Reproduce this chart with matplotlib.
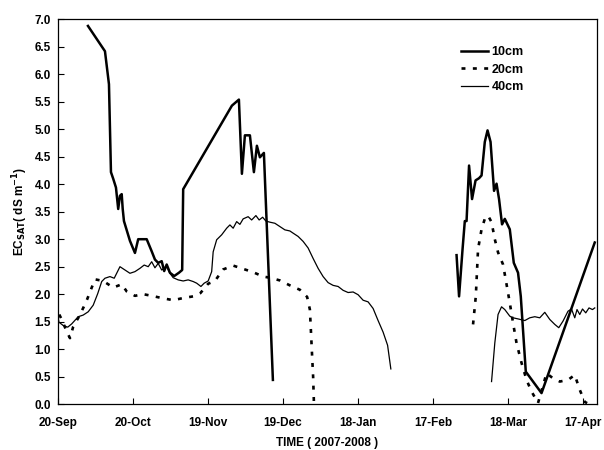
import numpy as np
from matplotlib import pyplot as plt

plt.rcParams['font.family'] = ['Liberation Sans', 'DejaVu Sans']
plt.rcParams['font.weight'] = 'bold'

# Days since 20-Sep-2007 and EC values.
tick_days = [0, 30, 60, 90, 120, 150, 180, 210]
tick_labels = ['20-Sep', '20-Oct', '19-Nov', '19-Dec', '18-Jan', '17-Feb', '18-Mar', '17-Apr']

# 10cm, two separate segments
d10_a = [12, 18.8, 20.4, 21.2, 22.1, 23.2, 24.1, 24.8, 25.5, 25.9, 26.4, 28.8, 30.8, 32.1,
         35.5, 37.5, 38.8, 40.1, 41.5, 42.5, 43.5, 44.8, 46.5, 48.4, 49.7, 50.1, 69.6, 72.4,
         73.6, 74.8, 76.8, 78.4, 79.6, 80.8, 82.4, 86]
v10_a = [6.88, 6.42, 5.82, 4.22, 4.1, 3.94, 3.55, 3.79, 3.82, 3.55, 3.33, 2.97, 2.75, 3.0,
         3.0, 2.78, 2.63, 2.57, 2.60, 2.42, 2.54, 2.39, 2.33, 2.39, 2.44, 3.91, 5.43, 5.54,
         4.19, 4.89, 4.89, 4.22, 4.70, 4.49, 4.57, 0.44]
d10_b = [159.5, 160.5, 161.9, 162.8, 163.5, 164.5, 165.7, 167.1, 168.5, 169.5, 170.8, 171.9,
         173.1, 174.5, 175.5, 176.5, 177.7, 178.8, 180.8, 182.4, 184.1, 185.2, 187.2, 193.5,
         214.8]
v10_b = [2.71, 1.96, 2.82, 3.33, 3.33, 4.34, 3.73, 4.07, 4.11, 4.16, 4.77, 4.98, 4.77, 3.88,
         4.01, 3.73, 3.27, 3.37, 3.18, 2.57, 2.39, 1.96, 0.59, 0.2, 2.94]

# 20cm
d20_a = [0.5, 1.5, 3.5, 4.8, 6.1, 8.5, 10.1, 11.7, 13.5, 14.8, 18.1, 22.1, 25.5, 27.5, 30.8,
         34.1, 37.5, 41.5, 46.1, 50.1, 54.1, 57.0, 60.1, 62.8, 66.1, 70.1, 74.1, 78.1, 82.1,
         84.8, 88.8, 92.8, 96.8, 99.7, 100.8, 101.2, 101.7, 102.1, 102.4]
v20_a = [1.63, 1.54, 1.32, 1.20, 1.41, 1.60, 1.75, 1.91, 2.12, 2.27, 2.24, 2.12, 2.18, 2.05,
         1.97, 2.0, 1.97, 1.93, 1.89, 1.93, 1.96, 2.02, 2.19, 2.24, 2.45, 2.52, 2.46, 2.40,
         2.32, 2.30, 2.25, 2.16, 2.08, 1.95, 1.72, 1.35, 0.87, 0.50, 0.05]
d20_b = [166.1, 167.2, 168.1, 169.5, 170.8, 172.1, 173.5, 174.8, 176.1, 178.1, 179.5, 180.8,
         182.1, 183.5, 185.5, 187.5, 189.5, 192.1, 195.5, 198.1, 200.8, 204.1, 206.8, 208.8,
         210.8, 212.5]
v20_b = [1.45, 1.96, 2.82, 3.18, 3.37, 3.43, 3.31, 3.0, 2.76, 2.54, 2.18, 1.84, 1.48, 1.11,
         0.75, 0.44, 0.23, 0.02, 0.56, 0.47, 0.41, 0.44, 0.53, 0.26, 0.04, 0.0]

# 40cm
d40_a = [0, 0.4, 2.1, 3.9, 5.5, 8.1, 10.1, 12.1, 14.1, 15.9, 17.5, 18.8, 20.8, 22.5, 24.8,
         26.8, 28.8, 30.8, 32.8, 34.5, 36.1, 37.5, 38.8, 40.1, 41.5, 43.5, 44.8, 46.1, 48.1,
         50.1, 52.1, 54.1, 55.5, 57.2, 58.5, 60.1, 61.5, 62.1, 63.5, 65.5, 67.5, 68.8, 70.1,
         71.5, 72.8, 74.1, 76.1, 77.5, 79.2, 80.5, 81.9, 83.2, 84.8, 86.8, 88.8, 90.8, 92.8,
         94.1, 96.1, 98.1, 100.1, 102.1, 104.1, 106.1, 108.1, 110.1, 112.1, 114.1, 116.1,
         118.1, 120.1, 122.1, 124.1, 126.1, 128.1, 130.1, 131.9, 133.2]
v40_a = [1.59, 1.49, 1.43, 1.40, 1.46, 1.59, 1.62, 1.68, 1.80, 2.01, 2.23, 2.29, 2.32, 2.29,
         2.50, 2.44, 2.38, 2.41, 2.47, 2.53, 2.50, 2.59, 2.48, 2.56, 2.44, 2.50, 2.38, 2.30,
         2.26, 2.24, 2.26, 2.23, 2.20, 2.14, 2.20, 2.24, 2.41, 2.77, 2.99, 3.08, 3.20, 3.26,
         3.20, 3.32, 3.27, 3.37, 3.41, 3.35, 3.43, 3.35, 3.40, 3.33, 3.31, 3.29, 3.23, 3.17,
         3.15, 3.11, 3.05, 2.96, 2.84, 2.65, 2.47, 2.32, 2.21, 2.16, 2.14, 2.07, 2.03, 2.04,
         1.99, 1.89, 1.86, 1.74, 1.52, 1.31, 1.07, 0.64]
d40_b = [173.5, 174.8, 176.1, 177.5, 178.8, 180.8, 182.1, 184.1, 186.8, 188.8, 190.8, 192.8,
         194.8, 196.8, 198.8, 200.4, 202.1, 204.1, 205.5, 206.8, 207.7, 208.8, 209.9, 211.2,
         212.5, 213.9, 214.8]
v40_b = [0.41, 1.11, 1.63, 1.77, 1.72, 1.60, 1.57, 1.55, 1.52, 1.57, 1.59, 1.57, 1.67, 1.54,
         1.45, 1.39, 1.51, 1.69, 1.73, 1.57, 1.72, 1.63, 1.73, 1.66, 1.75, 1.72, 1.75]

fig = plt.figure(figsize=(6.04, 4.5), dpi=100)
ax = fig.add_axes([0.096, 0.102, 0.892, 0.855])

dash = (0, (1.5, 2.8))
ax.plot(d10_a, v10_a, color='black', lw=1.8, label='10cm')
ax.plot(d10_b, v10_b, color='black', lw=1.8)
ax.plot(d20_a, v20_a, color='black', lw=1.9, linestyle=dash, label='20cm')
ax.plot(d20_b, v20_b, color='black', lw=1.9, linestyle=dash)
ax.plot(d40_a, v40_a, color='black', lw=0.9, label='40cm')
ax.plot(d40_b, v40_b, color='black', lw=0.9)

ax.set_xlim(0, 215.6)
ax.set_ylim(0, 7)
ax.set_xticks(tick_days)
ax.set_xticklabels(tick_labels)
ax.set_yticks(np.arange(0, 7.01, 0.5))
ax.set_yticklabels([f'{v:.1f}' for v in np.arange(0, 7.01, 0.5)])
ax.tick_params(direction='in', length=4, width=0.8, labelsize=8.5, pad=5)
ax.tick_params(axis='x', pad=9)
for s in ax.spines.values():
    s.set_linewidth(0.9)

ax.set_xlabel('TIME ( 2007-2008 )', fontsize=8.5, fontweight='bold', labelpad=6)
ax.set_ylabel(r'EC$_{\mathbf{SAT}}$( dS m$^{\mathbf{-1}}$)', fontsize=8.5, fontweight='bold',
              labelpad=3)

ax.legend(loc='upper right', bbox_to_anchor=(0.885, 0.96), frameon=False,
          handlelength=2.2, handletextpad=0.25, labelspacing=0.45,
          prop={'weight': 'bold', 'size': 9})

fig.savefig('out.png', dpi=100)
